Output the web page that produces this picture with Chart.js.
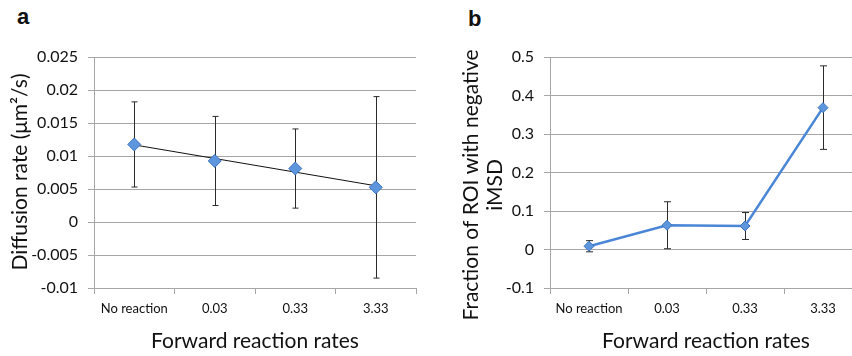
<!DOCTYPE html>
<html>
<head>
<meta charset="utf-8">
<script src="https://cdn.jsdelivr.net/npm/chart.js@4"></script>
<style>
  html, body { margin: 0; padding: 0; overflow: hidden; background: #fff; width: 852px; height: 356px; }
  .panel { position: absolute; top: 0; }
  .tag { position: absolute; font: bold 22px "Liberation Sans", Arial, sans-serif; color: #111; }
</style>
</head>
<body>
<div class="tag" style="left:17px; top:4px;">a</div>
<div class="tag" style="left:468px; top:6px;">b</div>
<canvas id="chartA" class="panel" style="left:0px;" width="426" height="356"></canvas>
<canvas id="chartB" class="panel" style="left:426px;" width="446" height="356"></canvas>
<script>
// data
const categories = ['No reaction', '0.03', '0.33', '3.33'];
const diffusionRate = [0.01175, 0.00925, 0.0081, 0.00525];
const diffusionErr = [0.00645, 0.00675, 0.006, 0.01375];
const negFraction = [0.0085, 0.063, 0.061, 0.3685];
const negFractionErr = [0.0145, 0.061, 0.035, 0.1085];

const FONT = 'Lato, "Open Sans", sans-serif';
const GRID = '#a6a6a6';
const TEXT = '#111';

// linear trendline (least squares) through panel a values, like the spreadsheet trendline
function trend(vals) {
  const n = vals.length;
  const xs = vals.map((_, i) => i + 1);
  const mx = xs.reduce((a, b) => a + b) / n;
  const my = vals.reduce((a, b) => a + b) / n;
  let num = 0, den = 0;
  xs.forEach((x, i) => { num += (x - mx) * (vals[i] - my); den += (x - mx) * (x - mx); });
  const k = num / den;
  return xs.map(x => my + k * (x - mx));
}

// whiskers for the dataset that has errs
const errorBars = {
  id: 'errorBars',
  beforeDatasetsDraw(chart, args, opts) {
    const ctx = chart.ctx;
    const y = chart.scales.y;
    const meta = chart.getDatasetMeta(opts.dataset);
    const vals = chart.data.datasets[opts.dataset].data;
    ctx.save();
    ctx.strokeStyle = '#2b2b2b';
    ctx.lineWidth = 1;
    meta.data.forEach((pt, i) => {
      const x = Math.round(pt.x) + 0.5;
      const top = y.getPixelForValue(vals[i] + opts.errs[i]);
      const bot = y.getPixelForValue(vals[i] - opts.errs[i]);
      ctx.beginPath();
      ctx.moveTo(x, top); ctx.lineTo(x, bot);
      ctx.moveTo(x - opts.cap, top); ctx.lineTo(x + opts.cap, top);
      ctx.moveTo(x - opts.cap, bot); ctx.lineTo(x + opts.cap, bot);
      ctx.stroke();
    });
    ctx.restore();
  }
};

// rotated y axis title, placed where the figure has it
const yTitle = {
  id: 'yTitle',
  afterDraw(chart, args, opts) {
    const ctx = chart.ctx;
    ctx.save();
    ctx.translate(opts.x, opts.y);
    ctx.rotate(-Math.PI / 2);
    ctx.font = '21px ' + FONT;
    ctx.fillStyle = TEXT;
    ctx.textAlign = 'center';
    ctx.textBaseline = 'middle';
    opts.lines.forEach((l, i) => ctx.fillText(l, 0, i * 24));
    ctx.restore();
  }
};

function baseScales(yMin, yMax, step, yWidth) {
  return {
    x: {
      offset: true,
      grid: { offset: true, drawOnChartArea: false, tickLength: 6, color: GRID },
      border: { color: GRID },
      ticks: { color: TEXT, font: { family: FONT, size: 13 }, padding: 7, maxRotation: 0 },
      title: { display: true, text: 'Forward reaction rates', color: TEXT,
               font: { family: FONT, size: 21 }, padding: { top: 0, bottom: 2 } },
      afterFit(s) { s.height = 68; }
    },
    y: {
      min: yMin, max: yMax,
      grid: { color: GRID, tickLength: 6 },
      border: { color: GRID },
      ticks: { stepSize: step, color: TEXT, font: { family: FONT, size: 16 }, padding: 10,
               callback: v => String(Math.round(v * 10000) / 10000) },
      afterFit(s) { s.width = yWidth; }
    }
  };
}

const common = {
  responsive: false,
  animation: false,
  events: [],
  plugins: { legend: { display: false }, tooltip: { enabled: false } }
};

new Chart(document.getElementById('chartA'), {
  type: 'line',
  data: {
    labels: categories,
    datasets: [{
      data: diffusionRate,
      showLine: false,
      pointStyle: 'rectRot',
      pointRadius: 6.5,
      pointBackgroundColor: '#5d96dd',
      pointBorderColor: '#3d73bf',
      pointBorderWidth: 1,
      order: 1
    }, {
      data: trend(diffusionRate),
      borderColor: '#111',
      borderWidth: 1,
      pointRadius: 0,
      order: 2
    }]
  },
  options: Object.assign({}, common, {
    layout: { padding: { top: 57, right: 10, left: 0, bottom: 0 } },
    scales: baseScales(-0.01, 0.025, 0.005, 94),
    plugins: Object.assign({}, common.plugins, {
      errorBars: { dataset: 0, errs: diffusionErr, cap: 3 },
      yTitle: { x: 20, y: 172, lines: ['Diffusion rate (μm²/s)'] }
    })
  }),
  plugins: [errorBars, yTitle]
});

new Chart(document.getElementById('chartB'), {
  type: 'line',
  data: {
    labels: categories,
    datasets: [{
      data: negFraction,
      borderColor: '#4a86d6',
      borderWidth: 2.5,
      pointStyle: 'rectRot',
      pointRadius: 5,
      pointBackgroundColor: '#5d96dd',
      pointBorderColor: '#3d73bf',
      pointBorderWidth: 1
    }]
  },
  options: Object.assign({}, common, {
    layout: { padding: { top: 57, right: 10, left: 0, bottom: 0 } },
    scales: baseScales(-0.1, 0.5, 0.1, 124),
    plugins: Object.assign({}, common.plugins, {
      errorBars: { dataset: 0, errs: negFractionErr, cap: 3.5 },
      yTitle: { x: 45, y: 185, lines: ['Fraction of ROI with negative', 'iMSD'] }
    })
  }),
  plugins: [errorBars, yTitle]
});
</script>
</body>
</html>
